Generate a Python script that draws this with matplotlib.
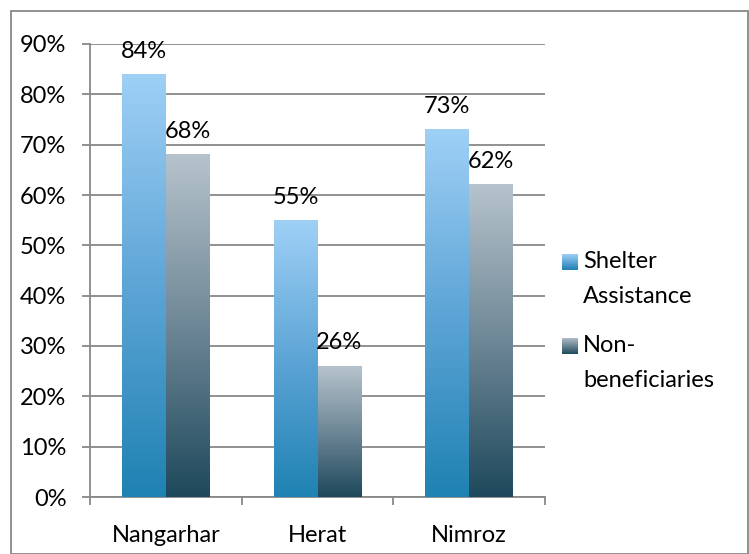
import matplotlib
matplotlib.use('Agg')
import matplotlib.pyplot as plt
import numpy as np
from matplotlib.patches import Rectangle
from matplotlib.colors import LinearSegmentedColormap

categories = ['Nangarhar', 'Herat', 'Nimroz']
shelter = [84, 55, 73]
nonben = [68, 26, 62]
series_names = ['Shelter\nAssistance', 'Non-\nbeneficiaries']
yticks = list(range(0, 91, 10))

plt.rcParams['font.family'] = ['Lato', 'DejaVu Sans']
FS = 17
W, H = 749, 554
fig = plt.figure(figsize=(W / 100, H / 100), dpi=100)
ax = fig.add_axes([90 / W, 57 / H, 455 / W, 453 / H])

blue_cmap = LinearSegmentedColormap.from_list('b', ['#1E82B2', '#5DA5D6', '#9FD0F6'])
gray_cmap = LinearSegmentedColormap.from_list('g', ['#1E495C', '#6E8796', '#B6C3CC'])
grad = np.linspace(0, 1, 256).reshape(-1, 1)

x = np.arange(len(categories))
bw = 0.29
for vals, off, cmap in [(shelter, -bw / 2, blue_cmap), (nonben, bw / 2, gray_cmap)]:
    for xi, v in zip(x, vals):
        x0 = xi + off - bw / 2
        ax.imshow(grad, extent=[x0, x0 + bw, 0, v], aspect='auto', cmap=cmap,
                  origin='lower', zorder=3, interpolation='bilinear')
        ax.annotate(f'{v}%', (xi + off, v), xytext=(0, 12), textcoords='offset points',
                    ha='center', va='baseline', fontsize=FS, color='black', zorder=4)

ax.set_xlim(-0.5, len(categories) - 0.5)
ax.set_ylim(0, 90)
ax.set_yticks(yticks)
ax.set_yticklabels([f'{t}%' for t in yticks], fontsize=FS)
ax.yaxis.grid(True, color='#888888', lw=1.3, zorder=1)
ax.set_axisbelow(True)
ax.tick_params(axis='y', direction='out', length=6, width=1.3, color='#888888', pad=11)

ax.set_xticks(x)
ax.set_xticklabels(categories, fontsize=FS)
ax.set_xticks(np.arange(-0.5, len(categories)), minor=True)
ax.tick_params(axis='x', which='major', length=0, pad=20)
ax.tick_params(axis='x', which='minor', direction='out', length=6, width=1.3, color='#888888')

for s in ['top', 'right']:
    ax.spines[s].set_visible(False)
for s in ['left', 'bottom']:
    ax.spines[s].set_color('#888888')
    ax.spines[s].set_linewidth(1.3)

# outer chart frame
fig.patches.append(Rectangle((11 / W, 0), (W - 12) / W, (H - 11) / H, transform=fig.transFigure,
                             fill=False, ec='#888888', lw=1.3))

# legend
for i, (name, cmap) in enumerate(zip(series_names, [blue_cmap, gray_cmap])):
    cy = 262 + 84 * i
    lax = fig.add_axes([562 / W, (H - cy - 8) / H, 16 / W, 16 / H])
    lax.imshow(grad, aspect='auto', cmap=cmap, origin='lower', interpolation='bilinear')
    lax.axis('off')
    fig.text(583 / W, (H - cy + 11) / H, name, fontsize=FS, va='top', ha='left',
             linespacing=1.8)

fig.savefig('out.png', dpi=100)
